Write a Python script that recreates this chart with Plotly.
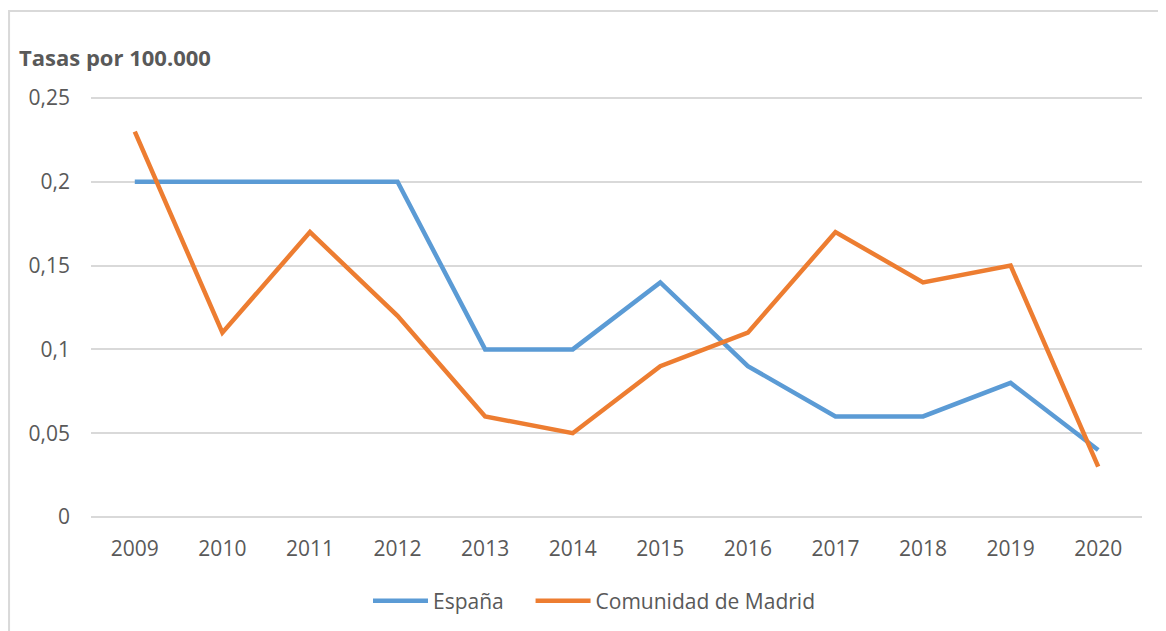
import plotly.graph_objects as go

years = ["2009", "2010", "2011", "2012", "2013", "2014", "2015", "2016", "2017", "2018", "2019", "2020"]
espana = [0.20, 0.20, 0.20, 0.20, 0.10, 0.10, 0.14, 0.09, 0.06, 0.06, 0.08, 0.04]
madrid = [0.23, 0.11, 0.17, 0.12, 0.06, 0.05, 0.09, 0.11, 0.17, 0.14, 0.15, 0.03]
y_ticks = [0, 0.05, 0.10, 0.15, 0.20, 0.25]
y_labels = ["0", "0,05", "0,1", "0,15", "0,2", "0,25"]

W, H = 1166, 631
FONT = "Open Sans, Liberation Sans, sans-serif"
GRAY = "#595959"
eps = 0.0012
PW = 1051
PH0 = 419                                   # pixels from 0 to 0.25
PH = round(PH0 * (0.25 + 2 * eps) / 0.25)   # plot area incl. small padding
L = 83
T = 90 - (PH - PH0) // 2
NBSP = "\u00a0"

fig = go.Figure()
fig.add_trace(go.Scatter(x=years, y=espana, mode="lines", name="España" + NBSP * 4,
                         line=dict(color="#5B9BD5", width=4.5)))
fig.add_trace(go.Scatter(x=years, y=madrid, mode="lines", name="Comunidad de Madrid",
                         line=dict(color="#ED7D31", width=4.5)))

fig.update_layout(
    width=W, height=H,
    paper_bgcolor="white", plot_bgcolor="white",
    margin=dict(l=L, r=W - L - PW, t=T, b=H - T - PH, autoexpand=False),
    font=dict(family=FONT, size=21, color=GRAY),
    showlegend=True,
    legend=dict(orientation="h", x=(360 - L) / PW, xanchor="left",
                y=-(593 - T - PH) / PH, yanchor="middle",
                font=dict(size=21, color=GRAY), itemwidth=55, tracegroupgap=0),
    xaxis=dict(type="category", range=[-0.5, len(years) - 0.5], showgrid=False,
               zeroline=False, showline=False, ticks="",
               tickfont=dict(size=21, color=GRAY), ticklabelstandoff=15),
    yaxis=dict(range=[-eps, 0.25 + eps], tickvals=y_ticks, ticktext=y_labels,
               showgrid=True, gridcolor="#D9D9D9", gridwidth=1.5,
               zeroline=False, showline=False, ticks="",
               tickfont=dict(size=21, color=GRAY), ticklabelstandoff=20),
    annotations=[dict(text="<b>Tasas por 100.000</b>", xref="paper", yref="paper",
                      x=(9 - L) / PW, y=1 + (T - 49) / PH, xanchor="left", yanchor="middle",
                      showarrow=False, font=dict(size=22, color=GRAY, family=FONT))],
    shapes=[dict(type="rect", xref="paper", yref="paper",
                 x0=-L / PW + 0.001, x1=1 + 60 / PW, y0=-1, y1=1 + (T - 3) / PH,
                 line=dict(color="#D9D9D9", width=2), fillcolor="rgba(0,0,0,0)")],
)

fig.write_html("out.html")
